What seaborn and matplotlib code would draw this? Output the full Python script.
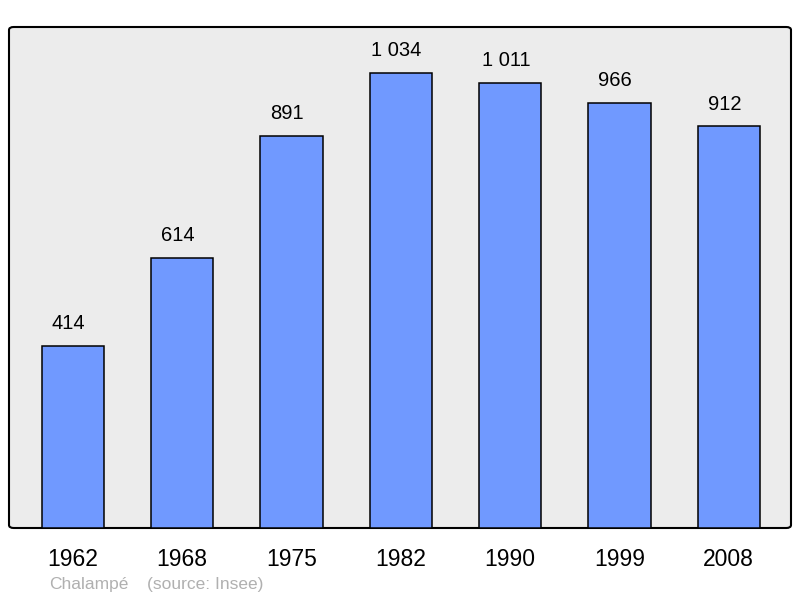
import matplotlib
matplotlib.use("Agg")
import matplotlib.pyplot as plt
from matplotlib.patches import FancyBboxPatch
import pandas as pd
import seaborn as sns

# données de population
years = ["1962", "1968", "1975", "1982", "1990", "1999", "2008"]
population = [414, 614, 891, 1034, 1011, 966, 912]
value_labels = ["414", "614", "891", "1 034", "1 011", "966", "912"]
commune = "Chalampé"
source = "(source: Insee)"

df = pd.DataFrame({"year": years, "population": population})

sns.set_theme(style="white")
plt.rcParams["font.family"] = ["Liberation Sans", "DejaVu Sans"]

fig = plt.figure(figsize=(8, 5.98), dpi=100)
ax = fig.add_axes([9 / 800, 70 / 598, 782 / 800, 501 / 598])
ax.set_facecolor("none")

# cadre gris arrondi
frame = FancyBboxPatch((0, 0), 1, 1, boxstyle="round,pad=0,rounding_size=0.006",
                       transform=ax.transAxes, facecolor="#ececec",
                       edgecolor="black", linewidth=1.5, clip_on=False, zorder=0)
ax.add_patch(frame)

sns.barplot(data=df, x="year", y="population", color="#7099ff", saturation=1,
            width=0.57, edgecolor="black", linewidth=1.1, ax=ax, zorder=2)

for i, (val, lab) in enumerate(zip(population, value_labels)):
    ax.annotate(lab, (i, val), xytext=(-3, 9), textcoords="offset points",
                ha="center", va="bottom", fontsize=14.5, color="black")

ax.set_xlim(-0.585, 6.57)
ax.set_ylim(0, 1138)
ax.set_yticks([])
ax.set_xlabel("")
ax.set_ylabel("")
ax.tick_params(axis="x", length=0, labelsize=16.5, pad=14.5, colors="black")
for s in ax.spines.values():
    s.set_visible(False)

fig.text(49 / 800, 1 - 584 / 598, commune, fontsize=12.5, color="#b0b0b0", va="center")
fig.text(147 / 800, 1 - 584 / 598, source, fontsize=12.5, color="#b0b0b0", va="center")

fig.savefig("out.png", dpi=100, facecolor="white")
